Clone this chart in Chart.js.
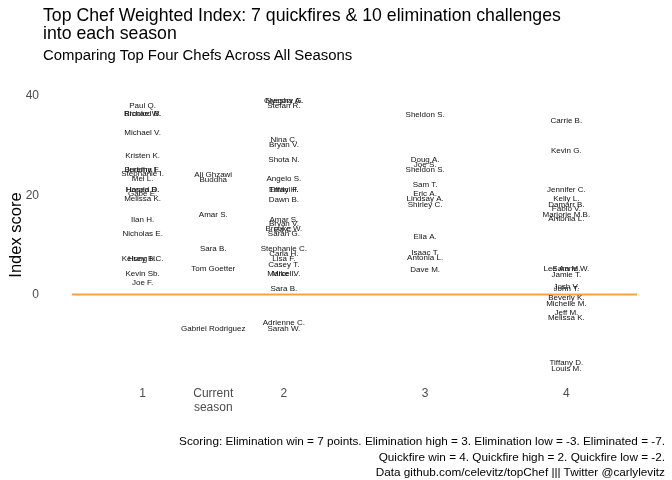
<!DOCTYPE html>
<html>
<head>
<meta charset="utf-8">
<script src="https://cdn.jsdelivr.net/npm/chart.js@4.4.1/dist/chart.umd.min.js"></script>
<style>
html,body{margin:0;padding:0;background:#fff;}
#wrap{position:relative;width:672px;height:480px;font-family:"Liberation Sans",Arial,Helvetica,sans-serif;overflow:hidden;}
#c{position:absolute;left:0;top:0;}
.t{position:absolute;white-space:nowrap;color:#000;}
#title{left:43px;top:6px;font-size:17.7px;line-height:18px;}
#subtitle{left:43px;top:47px;font-size:14.9px;}
#caption{right:7px;top:433px;font-size:11.75px;text-align:right;line-height:15.5px;}
</style>
</head>
<body>
<div id="wrap">
<canvas id="c" width="672" height="480"></canvas>
<div id="title" class="t">Top Chef Weighted Index: 7 quickfires &amp; 10 elimination challenges<br>into each season</div>
<div id="subtitle" class="t">Comparing Top Four Chefs Across All Seasons</div>
<div id="caption" class="t">Scoring: Elimination win = 7 points. Elimination high = 3. Elimination low = -3. Eliminated = -7.<br>Quickfire win = 4. Quickfire high = 2. Quickfire low = -2.<br>Data github.com/celevitz/topChef ||| Twitter @carlylevitz</div>
</div>
<script>
// ---- Data ----
const placeValues = [1, 1.5, 2, 3, 4];
const placeLabels = ["1", ["Current", "season"], "2", "3", "4"];
const yTickValues = [0, 20, 40];

const firstNames = ["Paul Q.","Richard B.","Brooke W.","Michael V.","Kristen K.","Jeremy F.","Buddha L.","Stephanie I.","Mei L.","Harold D.","Hosea R.","Gabe E.","Melissa K.","Ilan H.","Nicholas E.","Kelsey B.C.","Hung H.","Kevin Sb.","Joe F."];
const firstScores = [38, 36.5, 36.5, 32.6, 28, 25.2, 25.2, 24.3, 23.3, 21.2, 21.2, 20.3, 19.3, 15, 12.2, 7.3, 7.3, 4.1, 2.3];

const currentNames = ["Ali Ghzawi","Buddha","Amar S.","Sara B.","Tom Goetter","Gabriel Rodriguez"];
const currentScores = [24.1, 23.1, 16, 9.2, 5.1, -6.9];

const secondNames = ["Gregory G.","Nyesha A.","Stefan R.","Nina C.","Bryan V.","Shota N.","Angelo S.","Tiffani F.","Emily H.","Dawn B.","Amar S.","Bryan V.","Brooke W.","Ed C.","Sarah G.","Stephanie C.","Carla H.","Lisa F.","Casey T.","Mike I.","Marcel V.","Sara B.","Adrienne C.","Sarah W."];
const secondScores = [39, 39, 38, 31.1, 30.1, 27.1, 23.3, 21.1, 21.1, 19.1, 15, 14.2, 13.2, 13, 12.2, 9.3, 8.3, 7.3, 6.1, 4.1, 4.1, 1.1, -5.7, -6.9];

const thirdNames = ["Sheldon S.","Doug A.","Joe S.","Sheldon S.","Sam T.","Eric A.","Lindsay A.","Shirley C.","Elia A.","Isaac T.","Antonia L.","Dave M."];
const thirdScores = [36.2, 27.1, 26.1, 25.1, 22.1, 20.3, 19.3, 18, 11.6, 8.4, 7.4, 4.9];

const fourthNames = ["Carrie B.","Kevin G.","Jennifer C.","Kelly L.","Damarr B.","Fabio V.","Marjorie M.B.","Antonia L.","Lee Anne W.","Sara M.","Jamie T.","Josh V.","John T.","Beverly K.","Michelle M.","Jeff M.","Melissa K.","Tiffany D.","Louis M."];
const fourthScores = [35, 28.9, 21.1, 19.3, 18, 17.2, 16, 15.2, 5.1, 5.1, 3.9, 1.5, 1.1, -0.7, -1.9, -3.7, -4.7, -13.8, -15];

const baselineValue = 0;

// ---- Build datasets ----
const groups = [
  [placeValues[0], firstNames, firstScores],
  [placeValues[1], currentNames, currentScores],
  [placeValues[2], secondNames, secondScores],
  [placeValues[3], thirdNames, thirdScores],
  [placeValues[4], fourthNames, fourthScores]
];
const xMin = 0.5, xMax = 4.5;

const datasets = [{
  type: 'line',
  data: [{x: xMin, y: baselineValue}, {x: xMax, y: baselineValue}],
  borderColor: '#f8a33e',
  borderWidth: 2,
  pointRadius: 0,
  fill: false
}];
groups.forEach(([xv, names, scores]) => {
  datasets.push({
    type: 'scatter',
    isLabels: true,
    data: names.map((n, i) => ({x: xv, y: scores[i], name: n})),
    pointRadius: 0,
    pointHoverRadius: 0
  });
});

const labelPlugin = {
  id: 'textLabels',
  afterDatasetsDraw(chart) {
    const ctx = chart.ctx;
    ctx.save();
    ctx.font = '8px "Liberation Sans", Arial, sans-serif';
    ctx.fillStyle = '#111';
    ctx.textAlign = 'center';
    ctx.textBaseline = 'middle';
    chart.data.datasets.forEach((ds, di) => {
      if (!ds.isLabels) return;
      const meta = chart.getDatasetMeta(di);
      meta.data.forEach((pt, i) => ctx.fillText(ds.data[i].name, pt.x, pt.y));
    });
    ctx.restore();
  }
};

new Chart(document.getElementById('c'), {
  data: {datasets},
  options: {
    responsive: false,
    animation: false,
    layout: {padding: {top: 86, right: 35, bottom: 0, left: 0}},
    plugins: {legend: {display: false}, tooltip: {enabled: false}, title: {display: false}},
    scales: {
      x: {
        type: 'linear', min: xMin, max: xMax,
        grid: {display: false}, border: {display: false},
        afterBuildTicks: s => { s.ticks = placeValues.map(v => ({value: v})); },
        afterFit: s => { s.height = 96; },
        ticks: {
          autoSkip: false, maxRotation: 0, padding: -6,
          color: '#4d4d4d',
          font: {family: '"Liberation Sans", Arial, sans-serif', size: 12},
          callback: (v, i) => placeLabels[i]
        }
      },
      y: {
        type: 'linear', min: -18, max: 42,
        grid: {display: false}, border: {display: false},
        afterBuildTicks: s => { s.ticks = yTickValues.map(v => ({value: v})); },
        afterFit: s => { s.width = 72; },
        ticks: {
          padding: 25, color: '#4d4d4d',
          font: {family: '"Liberation Sans", Arial, sans-serif', size: 12}
        },
        title: {
          display: true, text: 'Index score', color: '#000',
          font: {family: '"Liberation Sans", Arial, sans-serif', size: 16.5},
          padding: {top: 7, bottom: 0}
        }
      }
    }
  },
  plugins: [labelPlugin]
});
</script>
</body>
</html>
